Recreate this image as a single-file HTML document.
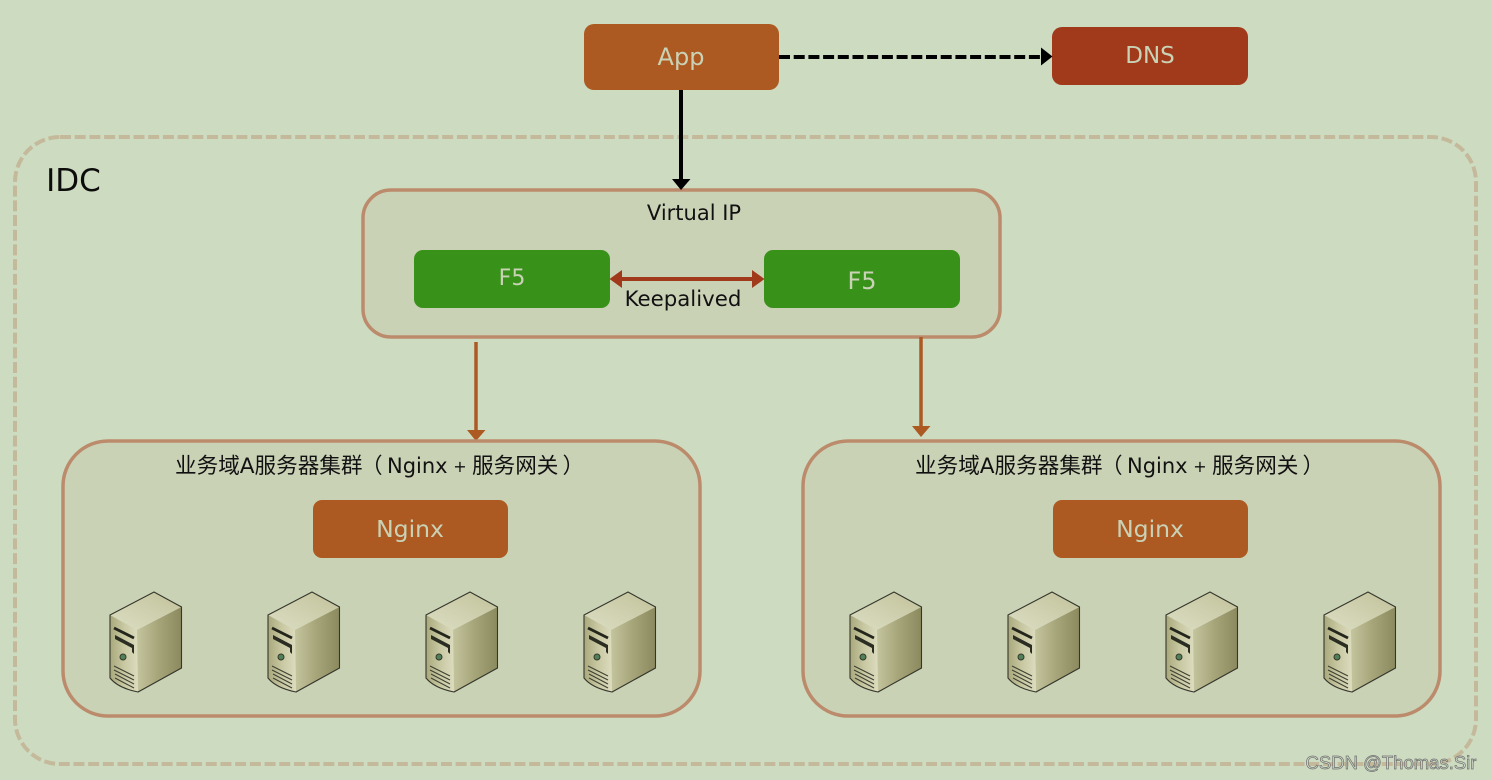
<!DOCTYPE html>
<html><head><meta charset="utf-8">
<style>
html,body{margin:0;padding:0;background:#cedcc2;}
svg{display:block;}
text{font-family:"DejaVu Sans","Noto Sans CJK SC",sans-serif;text-anchor:middle;}
text.s{text-anchor:start;}
</style></head>
<body>
<svg width="1492" height="780" viewBox="0 0 1492 780" xmlns="http://www.w3.org/2000/svg">
<defs>
<linearGradient id="gf" x1="0" y1="0" x2="1" y2="0"><stop offset="0" stop-color="#a9a87c"/><stop offset=".5" stop-color="#c8c8a2"/><stop offset="1" stop-color="#dcdcc0"/></linearGradient>
<linearGradient id="gr" x1="0" y1="0" x2="1" y2="0"><stop offset="0" stop-color="#c4c49e"/><stop offset=".45" stop-color="#a8a77c"/><stop offset="1" stop-color="#8b8a5e"/></linearGradient>
<linearGradient id="gt" x1="0" y1="1" x2="1" y2="0"><stop offset="0" stop-color="#dcdec4"/><stop offset="1" stop-color="#c2c29a"/></linearGradient>
<g id="srv">
<path d="M0 23L44 0L71.500 15L27 38Z" fill="url(#gt)"/>
<path d="M27 38L71.500 15V76L28 100Z" fill="url(#gr)"/>
<path d="M0 23L27 38L28 100Q8 96 0 86Z" fill="url(#gf)"/>
<path d="M0 23L44 0L71.500 15V76L28 100Q8 96 0 86Z" fill="none" stroke="#34372b" stroke-width="1.100"/>
<path d="M4 36L24 46" stroke="#24261c" stroke-width="2.800" fill="none"/>
<path d="M5 43L24 53V62L22 60V56L5 47Z" fill="#2b2d22"/>
<circle cx="13" cy="65" r="3" fill="#4f8058" stroke="#35382b" stroke-width="1"/>
<path d="M4 74L24 84M4 78L24 88M5 82L24 92M5 86L24 96" stroke="#3f4133" stroke-width="1.100" fill="none"/>
</g>
<g id="dom">
<rect x="0" y="0" width="637" height="275" rx="45" fill="#cad2b6" stroke="#bb8b6c" stroke-width="3.500"/>
<text class="s" x="112" y="32" font-size="21.600" fill="#111">业务域A服务器集群</text>
<text class="s" x="298" y="32" font-size="21.600" fill="#111">（</text>
<text class="s" x="324" y="32" font-size="21" fill="#111">Nginx</text>
<text x="397" y="31" font-size="16" fill="#111">+</text>
<text class="s" x="409" y="32" font-size="21.600" fill="#111">服务网关</text>
<text class="s" x="499.500" y="32" font-size="21.600" fill="#111">）</text>
<rect x="250" y="59" width="195" height="58" rx="9" fill="#ad5a22"/>
<text x="347" y="96" font-size="23.500" fill="#cad2b6">Nginx</text>
<use href="#srv" x="47" y="151"/>
<use href="#srv" x="205" y="151"/>
<use href="#srv" x="363" y="151"/>
<use href="#srv" x="521" y="151"/>
</g>
</defs>
<rect width="1492" height="780" fill="#cddcc1"/>

<rect x="15" y="137" width="1461" height="627" rx="45" fill="none" stroke="#c5b99b" stroke-width="4" stroke-dasharray="11 3.700"/>
<text x="73.500" y="191" font-size="31" fill="#0c0c0c">IDC</text>

<rect x="584" y="24" width="195" height="66" rx="10" fill="#ad5a22"/>
<text x="681" y="65" font-size="24" fill="#cad2b6">App</text>
<rect x="1052" y="27" width="196" height="58" rx="10" fill="#a03a1a"/>
<text x="1150" y="63" font-size="23" fill="#cad2b6">DNS</text>

<path d="M779 57H1042" stroke="#000" stroke-width="4" stroke-dasharray="11 3.700" fill="none"/>
<path d="M1041 47.500L1052.500 56.500L1041 65.500Z" fill="#000"/>

<rect x="363" y="190" width="637" height="147" rx="28" fill="#cad2b6" stroke="#bb8b6c" stroke-width="3.500"/>
<text x="694" y="220" font-size="21" fill="#111">Virtual IP</text>

<path d="M681 90V181" stroke="#000" stroke-width="4" fill="none"/>
<path d="M672 179H690.500L681 190Z" fill="#000"/>

<rect x="414" y="250" width="196" height="58" rx="9" fill="#38921a"/>
<text x="512" y="285" font-size="22" fill="#cad2b6">F5</text>
<rect x="764" y="250" width="196" height="58" rx="9" fill="#38921a"/>
<text x="862" y="289" font-size="24" fill="#cad2b6">F5</text>
<path d="M618 279H755" stroke="#a03a1a" stroke-width="4" fill="none"/>
<path d="M622 270L609.500 279L622 288Z" fill="#a03a1a"/>
<path d="M752 270L764.500 279L752 288Z" fill="#a03a1a"/>
<text x="683" y="306" font-size="21.300" fill="#111">Keepalived</text>

<path d="M476 342V432" stroke="#ad5a22" stroke-width="3.500" fill="none"/>
<path d="M467 430H485.500L476 441Z" fill="#ad5a22"/>
<path d="M921 337V428" stroke="#ad5a22" stroke-width="3.500" fill="none"/>
<path d="M912 426H930.500L921 437Z" fill="#ad5a22"/>

<use href="#dom" x="63" y="441"/>
<use href="#dom" x="803" y="441"/>

<text x="1391" y="769" font-size="18.500" fill="#cfd9c6" stroke="#6f6f6f" stroke-width=".7" style="font-family:'Liberation Sans',sans-serif">CSDN @Thomas.Sir</text>
</svg>
</body></html>
